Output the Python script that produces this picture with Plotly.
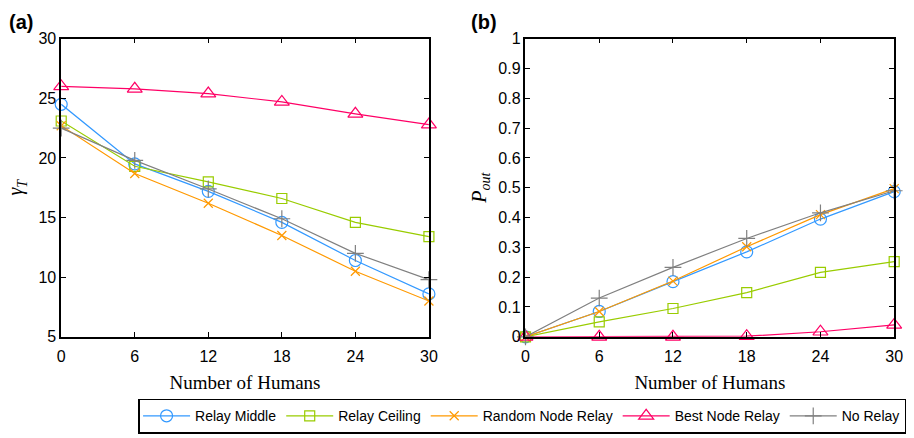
import plotly.graph_objects as go

humans = [0, 6, 12, 18, 24, 30]
series_names = ["Relay Middle", "Relay Ceiling", "Random Node Relay", "Best Node Relay", "No Relay"]

gamma_middle = [24.5, 19.5, 17.2, 14.6, 11.4, 8.6]
gamma_ceiling = [23.1, 19.3, 18.0, 16.6, 14.6, 13.4]
gamma_random = [22.7, 18.7, 16.2, 13.5, 10.5, 8.0]
gamma_best = [26.0, 25.8, 25.4, 24.7, 23.7, 22.8]
gamma_none = [22.5, 19.8, 17.4, 14.9, 12.0, 9.8]

pout_middle = [0.0, 0.085, 0.185, 0.285, 0.395, 0.487]
pout_ceiling = [0.0, 0.05, 0.095, 0.148, 0.216, 0.252]
pout_random = [0.0, 0.085, 0.187, 0.302, 0.41, 0.497]
pout_best = [0.0, 0.0, 0.0, 0.002, 0.017, 0.04]
pout_none = [0.0, 0.13, 0.233, 0.33, 0.416, 0.49]

colors = ["#3399ff", "#99cc00", "#ff9900", "#ff0066", "#808080"]
symbols = ["circle-open", "square-open", "x-thin-open", "triangle-up-open", "cross-thin-open"]
sizes = [12, 10, 9, 13, 12]

gammas = [gamma_middle, gamma_ceiling, gamma_random, gamma_best, gamma_none]
pouts = [pout_middle, pout_ceiling, pout_random, pout_best, pout_none]

fig = go.Figure()
for i, name in enumerate(series_names):
    fig.add_trace(go.Scatter(
        x=humans, y=gammas[i], name=name, mode="lines+markers",
        line=dict(color=colors[i], width=1.2),
        marker=dict(symbol=symbols[i], size=sizes[i], color=colors[i], line=dict(width=1.2, color=colors[i])),
        xaxis="x", yaxis="y", legendgroup=name, showlegend=True, cliponaxis=False))
for i, name in enumerate(series_names):
    fig.add_trace(go.Scatter(
        x=humans, y=pouts[i], name=name, mode="lines+markers",
        line=dict(color=colors[i], width=1.2),
        marker=dict(symbol=symbols[i], size=sizes[i], color=colors[i], line=dict(width=1.2, color=colors[i])),
        xaxis="x2", yaxis="y2", legendgroup=name, showlegend=False, cliponaxis=False))

tickfont = dict(family="Liberation Sans, Arial, sans-serif", size=16, color="black")
titlefont = dict(family="Liberation Serif, Times New Roman, serif", size=19, color="black")
mathfont = dict(family="Liberation Serif, serif", size=20, color="black")
common_ax = dict(showline=True, linecolor="black", linewidth=1.5, mirror="ticks", ticks="inside",
                 ticklen=5, tickcolor="black", showgrid=False, zeroline=False, tickfont=tickfont)

fig.update_layout(
    width=914, height=438,
    margin=dict(l=0, r=0, t=0, b=0),
    paper_bgcolor="white", plot_bgcolor="white",
    xaxis=dict(domain=[0.0635, 0.4716], range=[0, 30], tickvals=humans, anchor="y", ticklabelstandoff=4,
               title=dict(text="Number of Humans", font=titlefont, standoff=12), **common_ax),
    yaxis=dict(domain=[0.219, 0.927], range=[5, 30], tickvals=[5, 10, 15, 20, 25, 30], anchor="x",
               title=dict(text="<i>γ<sub>T</sub></i>", font=mathfont, standoff=10), **common_ax),
    xaxis2=dict(domain=[0.5788, 0.988], range=[0, 30], tickvals=humans, anchor="y2", ticklabelstandoff=4,
                title=dict(text="Number of Humans", font=titlefont, standoff=12), **common_ax),
    yaxis2=dict(domain=[0.219, 0.927], range=[0, 1], tickvals=[0, 0.1, 0.2, 0.3, 0.4, 0.5, 0.6, 0.7, 0.8, 0.9, 1],
                ticktext=["0", "0.1", "0.2", "0.3", "0.4", "0.5", "0.6", "0.7", "0.8", "0.9", "1"], anchor="x2",
                title=dict(text="<i>P<sub>out</sub></i>", font=mathfont, standoff=6), **common_ax),
    legend=dict(orientation="h", x=0.575, xanchor="center", y=0.072, yanchor="top",
                bordercolor="black", borderwidth=1.5, bgcolor="white",
                font=dict(family="Liberation Sans, Arial, sans-serif", size=14, color="black"),
                itemwidth=47, tracegroupgap=0),
    annotations=[
        dict(text="<b>(a)</b>", x=0.003, y=0.966, xref="paper", yref="paper", showarrow=False,
             xanchor="left", yanchor="middle", font=dict(family="Liberation Sans, Arial, sans-serif", size=20, color="black")),
        dict(text="<b>(b)</b>", x=0.516, y=0.966, xref="paper", yref="paper", showarrow=False,
             xanchor="left", yanchor="middle", font=dict(family="Liberation Sans, Arial, sans-serif", size=20, color="black")),
    ],
)

fig.write_html("out.html")
